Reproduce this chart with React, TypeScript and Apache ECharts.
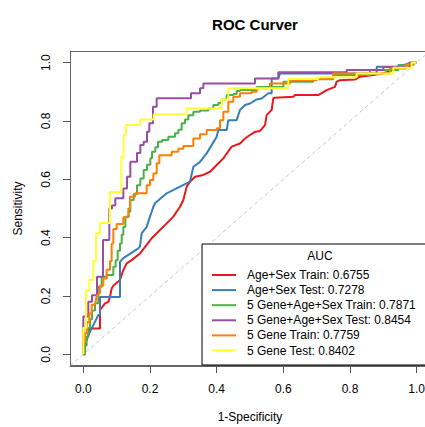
import React, { useEffect, useRef } from "react";
import * as echarts from "echarts";

const FONT = "Liberation Sans, Arial, Helvetica, sans-serif";

const TITLE = "ROC Curver";
const X_NAME = "1-Specificity";
const Y_NAME = "Sensitivity";
const TICKS = [0, 0.2, 0.4, 0.6, 0.8, 1.0];
const LEGEND_TITLE = "AUC";

const NAMES = [
  "Age+Sex Train: 0.6755",
  "Age+Sex Test: 0.7278",
  "5 Gene+Age+Sex Train: 0.7871",
  "5 Gene+Age+Sex Test: 0.8454",
  "5 Gene Train: 0.7759",
  "5 Gene Test: 0.8402",
];
const COLORS = ["#E41A1C", "#377EB8", "#4DAF4A", "#984EA3", "#FF7F00", "#FFFF33"];

// [1-specificity, sensitivity]
const AGESEX_TRAIN = [
  [0, 0], [0.005, 0], [0.005, 0.04], [0.01, 0.05], [0.02, 0.089], [0.05, 0.089], [0.05, 0.152],
  [0.065, 0.175], [0.075, 0.18], [0.08, 0.197], [0.085, 0.226], [0.09, 0.235], [0.11, 0.255],
  [0.12, 0.289], [0.13, 0.312], [0.145, 0.323], [0.17, 0.346], [0.19, 0.375], [0.205, 0.398],
  [0.22, 0.415], [0.25, 0.449], [0.27, 0.472], [0.29, 0.506], [0.3, 0.529], [0.31, 0.575],
  [0.32, 0.592], [0.335, 0.609], [0.36, 0.615], [0.38, 0.626], [0.4, 0.649], [0.42, 0.672],
  [0.425, 0.68], [0.445, 0.712], [0.47, 0.723], [0.485, 0.74], [0.5, 0.752], [0.515, 0.763],
  [0.53, 0.766], [0.545, 0.786], [0.55, 0.82], [0.565, 0.838], [0.57, 0.878], [0.575, 0.88],
  [0.63, 0.883], [0.635, 0.889], [0.705, 0.889], [0.73, 0.906], [0.755, 0.917], [0.76, 0.935],
  [0.77, 0.94], [0.815, 0.942], [0.83, 0.952], [0.87, 0.958], [0.895, 0.963], [0.92, 0.97],
  [0.935, 0.98], [0.98, 0.995], [1, 1],
];

const AGESEX_TEST = [
  [0, 0], [0.005, 0], [0.005, 0.038], [0.01, 0.05], [0.02, 0.078], [0.03, 0.1], [0.045, 0.135],
  [0.05, 0.135], [0.05, 0.197], [0.11, 0.197], [0.11, 0.317], [0.12, 0.33], [0.165, 0.363],
  [0.17, 0.37], [0.175, 0.415], [0.19, 0.437], [0.2, 0.472], [0.21, 0.506], [0.215, 0.518],
  [0.25, 0.552], [0.32, 0.592], [0.33, 0.643], [0.35, 0.66], [0.37, 0.689], [0.4, 0.746],
  [0.405, 0.769], [0.43, 0.769], [0.435, 0.803], [0.46, 0.803], [0.47, 0.838], [0.485, 0.855],
  [0.5, 0.86], [0.52, 0.874], [0.535, 0.877], [0.555, 0.895], [0.565, 0.895], [0.565, 0.946],
  [0.585, 0.946], [0.59, 0.963], [0.88, 0.963], [0.88, 0.986], [0.95, 0.986], [0.98, 1], [1, 1],
];

const GENE_AGESEX_TRAIN = [
  [0, 0], [0.005, 0], [0.005, 0.03], [0.01, 0.03], [0.01, 0.06], [0.015, 0.06], [0.015, 0.09],
  [0.02, 0.09], [0.02, 0.12], [0.026, 0.12], [0.026, 0.15], [0.035, 0.15], [0.035, 0.175],
  [0.045, 0.175], [0.045, 0.232], [0.055, 0.232], [0.055, 0.266], [0.07, 0.266], [0.07, 0.272],
  [0.09, 0.272], [0.09, 0.3], [0.097, 0.3], [0.097, 0.323], [0.103, 0.323], [0.103, 0.355],
  [0.11, 0.355], [0.11, 0.38], [0.115, 0.38], [0.115, 0.41], [0.12, 0.41], [0.12, 0.437],
  [0.126, 0.437], [0.126, 0.472], [0.136, 0.472], [0.136, 0.49], [0.141, 0.49], [0.141, 0.529],
  [0.151, 0.529], [0.151, 0.55], [0.161, 0.55], [0.161, 0.58], [0.171, 0.58], [0.171, 0.603],
  [0.181, 0.603], [0.181, 0.632], [0.191, 0.632], [0.191, 0.65], [0.201, 0.65], [0.201, 0.672],
  [0.206, 0.672], [0.206, 0.695], [0.216, 0.695], [0.216, 0.71], [0.224, 0.71], [0.224, 0.729],
  [0.236, 0.729], [0.236, 0.735], [0.255, 0.735], [0.255, 0.746], [0.275, 0.746], [0.275, 0.758],
  [0.285, 0.758], [0.285, 0.77], [0.295, 0.77], [0.295, 0.792], [0.305, 0.792], [0.305, 0.805],
  [0.315, 0.805], [0.315, 0.82], [0.33, 0.82], [0.33, 0.832], [0.35, 0.832], [0.35, 0.836],
  [0.375, 0.836], [0.375, 0.843], [0.39, 0.843], [0.39, 0.855], [0.405, 0.855], [0.405, 0.862],
  [0.415, 0.862], [0.415, 0.874], [0.43, 0.874], [0.43, 0.889], [0.45, 0.889], [0.45, 0.893],
  [0.46, 0.893], [0.46, 0.903], [0.47, 0.903], [0.47, 0.906], [0.52, 0.906], [0.52, 0.917],
  [0.6, 0.917], [0.6, 0.935], [0.69, 0.935], [0.69, 0.943], [0.75, 0.943], [0.75, 0.958],
  [0.86, 0.958], [0.86, 0.975], [0.945, 0.975], [0.945, 0.992], [0.99, 0.992], [0.99, 1], [1, 1],
];

const GENE_AGESEX_TEST = [
  [0, 0], [0, 0.13], [0.015, 0.13], [0.015, 0.18], [0.026, 0.18], [0.026, 0.203], [0.041, 0.203],
  [0.041, 0.266], [0.059, 0.266], [0.059, 0.392], [0.078, 0.392], [0.078, 0.5], [0.086, 0.5],
  [0.086, 0.51], [0.096, 0.51], [0.096, 0.535], [0.12, 0.535], [0.12, 0.569], [0.131, 0.569],
  [0.131, 0.609], [0.141, 0.609], [0.141, 0.66], [0.161, 0.66], [0.161, 0.69], [0.171, 0.69],
  [0.171, 0.718], [0.181, 0.718], [0.181, 0.729], [0.191, 0.729], [0.191, 0.763], [0.198, 0.763],
  [0.198, 0.792], [0.209, 0.792], [0.209, 0.849], [0.22, 0.849], [0.22, 0.878], [0.323, 0.878],
  [0.323, 0.895], [0.35, 0.895], [0.35, 0.912], [0.36, 0.912], [0.36, 0.929], [0.515, 0.929],
  [0.515, 0.946], [0.585, 0.946], [0.585, 0.967], [0.79, 0.967], [0.79, 0.975], [0.9, 0.975],
  [0.9, 0.985], [0.98, 0.985], [0.98, 1], [1, 1],
];

const GENE_TRAIN = [
  [0, 0], [0, 0.04], [0.005, 0.04], [0.005, 0.072], [0.01, 0.072], [0.01, 0.11], [0.018, 0.11],
  [0.018, 0.14], [0.025, 0.14], [0.025, 0.17], [0.035, 0.17], [0.04, 0.2], [0.05, 0.21],
  [0.05, 0.235], [0.06, 0.235], [0.06, 0.26], [0.07, 0.26], [0.07, 0.29], [0.08, 0.29],
  [0.08, 0.32], [0.085, 0.32], [0.085, 0.38], [0.09, 0.38], [0.09, 0.43], [0.1, 0.43],
  [0.1, 0.447], [0.12, 0.447], [0.12, 0.47], [0.135, 0.47], [0.135, 0.5], [0.14, 0.5],
  [0.14, 0.54], [0.155, 0.54], [0.155, 0.552], [0.19, 0.552], [0.19, 0.58], [0.2, 0.58],
  [0.2, 0.598], [0.21, 0.598], [0.21, 0.62], [0.22, 0.62], [0.22, 0.655], [0.228, 0.655],
  [0.228, 0.683], [0.265, 0.683], [0.265, 0.695], [0.285, 0.695], [0.285, 0.705], [0.3, 0.705],
  [0.3, 0.714], [0.33, 0.714], [0.33, 0.74], [0.35, 0.74], [0.35, 0.755], [0.37, 0.755],
  [0.37, 0.769], [0.4, 0.769], [0.4, 0.775], [0.41, 0.775], [0.41, 0.803], [0.42, 0.803],
  [0.42, 0.832], [0.435, 0.832], [0.435, 0.866], [0.45, 0.866], [0.45, 0.883], [0.47, 0.883],
  [0.47, 0.895], [0.505, 0.895], [0.505, 0.9], [0.52, 0.9], [0.52, 0.912], [0.56, 0.912],
  [0.56, 0.929], [0.62, 0.929], [0.62, 0.94], [0.7, 0.94], [0.7, 0.945], [0.75, 0.945],
  [0.75, 0.963], [0.92, 0.963], [0.92, 0.98], [0.97, 0.98], [0.97, 0.995], [0.99, 0.995],
  [0.99, 1], [1, 1],
];

const GENE_TEST = [
  [0, 0], [0, 0.09], [0.008, 0.09], [0.008, 0.22], [0.018, 0.22], [0.018, 0.255], [0.03, 0.255],
  [0.03, 0.32], [0.038, 0.32], [0.038, 0.415], [0.05, 0.415], [0.05, 0.45], [0.08, 0.45],
  [0.08, 0.557], [0.114, 0.557], [0.114, 0.677], [0.121, 0.677], [0.121, 0.752], [0.128, 0.752],
  [0.128, 0.786], [0.171, 0.786], [0.171, 0.805], [0.211, 0.805], [0.211, 0.823], [0.31, 0.823],
  [0.31, 0.843], [0.415, 0.843], [0.415, 0.874], [0.435, 0.874], [0.435, 0.912], [0.615, 0.912],
  [0.615, 0.944], [0.705, 0.944], [0.705, 0.95], [0.82, 0.95], [0.82, 0.963], [0.93, 0.963],
  [0.93, 0.983], [0.985, 0.983], [0.985, 1], [1, 1],
];

const CURVES = [AGESEX_TRAIN, AGESEX_TEST, GENE_AGESEX_TRAIN, GENE_AGESEX_TEST, GENE_TRAIN, GENE_TEST];
const DIAGONAL = [[-0.04, -0.04], [1.04, 1.04]];

export default function App() {
  const ref = useRef<HTMLDivElement>(null);

  useEffect(() => {
    document.body.style.margin = "0";
    document.body.style.overflow = "hidden";
    if (!ref.current) return;
    const chart = echarts.init(ref.current, undefined, { renderer: "svg" });

    const rowY0 = 275;
    const rowStep = 15.1;

    const legendChildren: any[] = [
      {
        type: "rect",
        z: 100,
        shape: { x: 202, y: 244, width: 300, height: 121 },
        style: { fill: "#ffffff", stroke: "#000", lineWidth: 1 },
      },
      {
        type: "text",
        x: 320,
        y: 256,
        z: 101,
        style: {
          text: LEGEND_TITLE,
          fontSize: 12,
          fontFamily: FONT,
          fill: "#000",
          align: "center",
          verticalAlign: "middle",
        },
      },
    ];
    NAMES.forEach((n, i) => {
      const y = rowY0 + i * rowStep;
      legendChildren.push({
        type: "line",
        z: 101,
        shape: { x1: 212, y1: y, x2: 236, y2: y },
        style: { stroke: COLORS[i], lineWidth: 2 },
      });
      legendChildren.push({
        type: "text",
        z: 101,
        x: 247,
        y: y,
        style: {
          text: n,
          fontSize: 12,
          fontFamily: FONT,
          fill: "#000",
          align: "left",
          verticalAlign: "middle",
        },
      });
    });

    const axisText = { fontSize: 12, fontFamily: FONT, color: "#000" };

    const option: any = {
      animation: false,
      backgroundColor: "#fff",
      title: {
        text: TITLE,
        left: 250,
        top: 12,
        textAlign: "center",
        textStyle: { fontSize: 15, fontWeight: "bold", fontFamily: FONT, color: "#000" },
      },
      grid: {
        left: 70,
        top: 51,
        width: 360,
        height: 315,
        show: false,
        containLabel: false,
        outerBoundsMode: "none",
      },
      xAxis: {
        type: "value",
        min: -0.04,
        max: 1.04,
        name: X_NAME,
        nameLocation: "middle",
        nameGap: 45,
        nameTextStyle: axisText,
        axisLine: { show: true, onZero: false, lineStyle: { color: "#666" } },
        splitLine: { show: false },
        axisTick: { show: true, length: 7, lineStyle: { color: "#555" }, customValues: TICKS },
        axisLabel: {
          ...axisText,
          customValues: TICKS,
          margin: 17,
          formatter: (v: number) => v.toFixed(1),
        },
      },
      yAxis: {
        type: "value",
        min: -0.04,
        max: 1.04,
        name: Y_NAME,
        nameLocation: "middle",
        nameGap: 46,
        nameTextStyle: axisText,
        axisLine: { show: true, onZero: false, lineStyle: { color: "#666" } },
        splitLine: { show: false },
        axisTick: { show: true, length: 7, lineStyle: { color: "#555" }, customValues: TICKS },
        axisLabel: {
          ...axisText,
          customValues: TICKS,
          margin: 18,
          rotate: 90,
          formatter: (v: number) => v.toFixed(1),
        },
      },
      series: [
        {
          type: "line",
          data: DIAGONAL,
          showSymbol: false,
          silent: true,
          lineStyle: { color: "#C8C8C8", width: 1, type: [4, 3] },
          z: 1,
        },
        ...CURVES.map((d, i) => ({
          type: "line",
          name: NAMES[i],
          data: d,
          showSymbol: false,
          lineStyle: { color: COLORS[i], width: 2 },
          itemStyle: { color: COLORS[i] },
          z: 2 + i,
        })),
      ],
      graphic: [
        {
          type: "rect",
          silent: true,
          z: 50,
          shape: { x: 70.5, y: 51.5, width: 400, height: 314 },
          style: { fill: "none", stroke: "#666", lineWidth: 1 },
        },
        { type: "group", z: 100, children: legendChildren },
      ],
    };

    chart.setOption(option);
    return () => chart.dispose();
  }, []);

  return <div ref={ref} style={{ width: 425, height: 427 }} />;
}
